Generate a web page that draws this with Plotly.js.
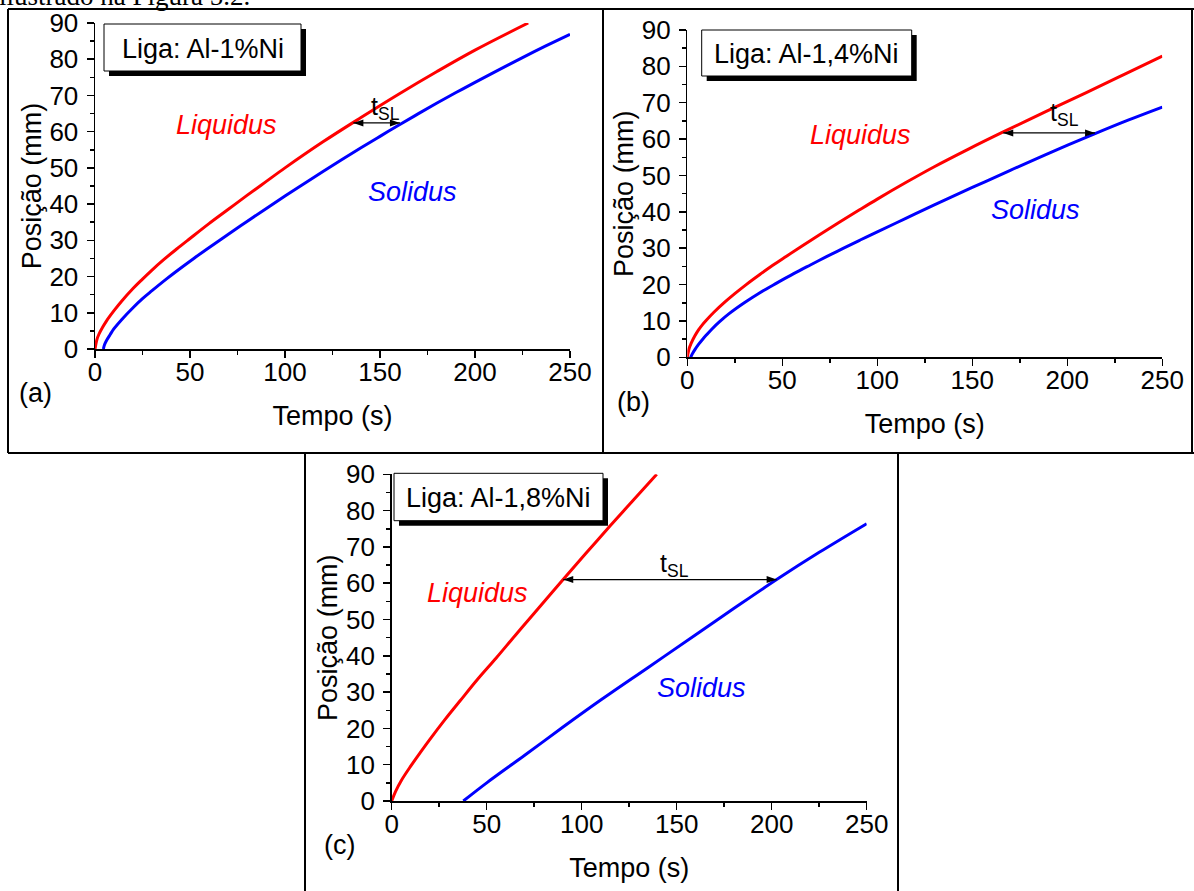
<!DOCTYPE html>
<html><head><meta charset="utf-8">
<script src="https://cdn.plot.ly/plotly-3.0.1.min.js"></script>
<style>html,body{margin:0;padding:0;background:#fff}#chart{width:1194px;height:891px}</style>
</head><body><div id="chart"></div>
<script>
// ---- data ----
const tempoLiqA = [0, 1, 2, 4, 6, 8, 10, 14, 20, 25, 30, 36, 43, 50, 60, 70, 80, 90, 100, 120, 140, 160, 180, 200, 228];
const posLiqA   = [0, 2.6, 4.0, 6.0, 7.7, 9.2, 10.6, 13.2, 16.7, 19.3, 21.8, 24.6, 27.6, 30.5, 34.6, 38.5, 42.4, 46.2, 50.0, 57.2, 63.9, 70.4, 76.6, 82.5, 90];
const tempoSolA = [4.4, 5, 6, 8, 10, 14, 20, 25, 30, 38, 45, 52, 58.8, 70, 80, 90, 100, 110, 120, 130, 140, 150, 160, 170, 180, 190, 200, 212, 225, 237, 250];
const posSolA   = [0, 1.2, 2.3, 4.0, 5.6, 8.1, 11.4, 13.9, 16.1, 19.5, 22.3, 25.0, 27.55, 31.6, 35.2, 38.75, 42.25, 45.65, 49.0, 52.3, 55.55, 58.7, 61.85, 64.9, 67.9, 70.8, 73.6, 76.9, 80.45, 83.6, 86.9];

const tempoLiqB = [0, 1, 2, 4, 6, 8, 10, 14, 20, 25, 31, 38, 45, 52, 60, 70, 80, 90, 100, 115, 130, 148, 166, 190, 210, 230, 250];
const posLiqB   = [0, 2.5, 3.8, 5.9, 7.6, 9.0, 10.2, 12.4, 15.3, 17.5, 20.0, 22.7, 25.3, 27.75, 30.5, 33.85, 37.15, 40.35, 43.5, 48.05, 52.4, 57.25, 61.9, 67.9, 72.8, 77.8, 82.8];
const tempoSolB = [1.8, 2.5, 4, 6, 8, 10, 13, 17, 22, 30, 38, 47, 56, 65, 73, 82, 91, 100, 115, 130, 150, 170, 192, 214.6, 232, 250];
const posSolB   = [0, 0.8, 2.1, 3.6, 4.9, 6.1, 7.8, 9.8, 12.0, 15.0, 17.7, 20.4, 23.0, 25.45, 27.6, 29.95, 32.25, 34.5, 38.2, 41.9, 46.7, 51.4, 56.5, 61.5, 65.2, 68.8];

const tempoLiqC = [0, 2, 5, 10, 15, 20, 28, 36, 45, 55, 65, 75, 90, 102, 115, 127, 139.5];
const posLiqC   = [0, 2.6, 5.6, 9.6, 13.3, 16.9, 22.4, 27.6, 33.4, 39.4, 45.6, 51.7, 60.9, 68.1, 75.8, 82.8, 90];
const tempoSolC = [37.7, 50, 70, 90, 110, 135, 160, 180, 202.6, 225, 250];
const posSolC   = [0, 5, 12.6, 20.3, 27.8, 36.8, 45.8, 53, 61, 68.5, 76.4];

const ligas = ['Liga: Al-1%Ni', 'Liga: Al-1,4%Ni', 'Liga: Al-1,8%Ni'];
const painelRotulos = ['(a)', '(b)', '(c)'];
const tslInicio = [136, 166.3, 90.3];
const tslFim    = [160.5, 214.6, 202.6];
const tslPos    = [62.4, 61.7, 61];
const xTitulo = 'Tempo (s)';
const yTitulo = 'Posição (mm)';

// ---- layout helpers ----
const W = 1194, H = 891;
const px = x => x / W;
const py = y => 1 - y / H;
const FONT = 'Liberation Sans, Arial, sans-serif';
const RED = '#ff0000', BLUE = '#0000ff';

function xAxis(d0, d1, anchor) {
  return {domain:[px(d0), px(d1)], anchor, range:[0, 250], tick0:0, dtick:50,
    showgrid:false, zeroline:false, showline:true, linecolor:'#000', linewidth:1.5,
    ticks:'outside', ticklen:7, tickwidth:1.5, tickcolor:'#000',
    tickfont:{family:FONT, size:26, color:'#000'}, ticklabelstandoff:-8,
    minor:{dtick:25, ticks:'outside', ticklen:4, tickwidth:1.5, tickcolor:'#000', showgrid:false},
    title:{text:xTitulo, font:{family:FONT, size:27, color:'#000'}, standoff:20},
    automargin:false, fixedrange:true};
}
function yAxis(d0, d1, anchor) {
  return {domain:[py(d0), py(d1)], anchor, range:[0, 90], tick0:0, dtick:10,
    showgrid:false, zeroline:false, showline:true, linecolor:'#000', linewidth:1.5,
    ticks:'outside', ticklen:7, tickwidth:1.5, tickcolor:'#000',
    tickfont:{family:FONT, size:26, color:'#000'}, ticklabelstandoff:3,
    minor:{dtick:5, ticks:'outside', ticklen:4, tickwidth:1.5, tickcolor:'#000', showgrid:false},
    title:{text:yTitulo, font:{family:FONT, size:27, color:'#000'}, standoff:0},
    automargin:false, fixedrange:true};
}

function curve(x, y, color, xa, ya, name) {
  return {x, y, type:'scatter', mode:'lines', name, xaxis:xa, yaxis:ya,
    line:{color, width:3, shape:'spline', smoothing:1}, hoverinfo:'skip', showlegend:false};
}

const data = [
  curve(tempoLiqA, posLiqA, RED, 'x', 'y', 'Liquidus'),
  curve(tempoSolA, posSolA, BLUE, 'x', 'y', 'Solidus'),
  curve(tempoLiqB, posLiqB, RED, 'x2', 'y2', 'Liquidus'),
  curve(tempoSolB, posSolB, BLUE, 'x2', 'y2', 'Solidus'),
  curve(tempoLiqC, posLiqC, RED, 'x3', 'y3', 'Liquidus'),
  curve(tempoSolC, posSolC, BLUE, 'x3', 'y3', 'Solidus')
];

// panel geometry (pixels)
const panels = [
  {x0:95,    x1:570,   y0:349,   y1:23,    xa:'x',  ya:'y',
   box:[104, 24, 301, 71], liq:[226, 125], sol:[412, 192], tsl:[385, 108], lab:[35.5, 393]},
  {x0:687.3, x1:1162.3, y0:357.3, y1:30,   xa:'x2', ya:'y2',
   box:[701.7, 30, 911.7, 76], liq:[860.5, 135], sol:[1035, 210], tsl:[1064, 114], lab:[633, 401.7]},
  {x0:391.7, x1:866.7, y0:801,   y1:474.3, xa:'x3', ya:'y3',
   box:[394, 473.3, 603, 520.7], liq:[477, 593.3], sol:[701.5, 688.3], tsl:[674, 565], lab:[340, 845]}
];

const layout = {
  width:W, height:H, margin:{l:0, r:0, t:0, b:0},
  paper_bgcolor:'#fff', plot_bgcolor:'rgba(0,0,0,0)', showlegend:false,
  xaxis: xAxis(panels[0].x0, panels[0].x1, 'y'),
  yaxis: yAxis(panels[0].y0, panels[0].y1, 'x'),
  xaxis2: xAxis(panels[1].x0, panels[1].x1, 'y2'),
  yaxis2: yAxis(panels[1].y0, panels[1].y1, 'x2'),
  xaxis3: xAxis(panels[2].x0, panels[2].x1, 'y3'),
  yaxis3: yAxis(panels[2].y0, panels[2].y1, 'x3'),
  shapes: [], annotations: []
};

// panel frames
const frameLines = [
  [8, 9, 1194, 9], [8, 9, 8, 453], [603, 9, 603, 453], [1192, 9, 1192, 453],
  [8, 453, 1194, 453], [305, 453, 305, 891], [898, 453, 898, 891]
];
frameLines.forEach(l => layout.shapes.push({type:'line', xref:'paper', yref:'paper',
  x0:px(l[0]), y0:py(l[1]), x1:px(l[2]), y1:py(l[3]), line:{color:'#000', width:2}}));

const txt = (text, x, y, opts={}) => Object.assign({text, xref:'paper', yref:'paper',
  x:px(x), y:py(y), xanchor:'center', yanchor:'middle', showarrow:false,
  font:{family:FONT, size:27, color:'#000'}}, opts);

// cut-off sentence at the very top
layout.annotations.push(txt('ilustrado na Figura 5.2.', -3, -4,
  {xanchor:'left', font:{family:'Liberation Serif, Times New Roman, serif', size:27, color:'#000'}}));

panels.forEach((p, i) => {
  const b = p.box;
  layout.shapes.push({type:'rect', xref:'paper', yref:'paper',
    x0:px(b[0] + 5), x1:px(b[2] + 5), y0:py(b[1] + 5), y1:py(b[3] + 5),
    fillcolor:'#000', line:{width:0}});
  layout.shapes.push({type:'rect', xref:'paper', yref:'paper',
    x0:px(b[0]), x1:px(b[2]), y0:py(b[1]), y1:py(b[3]),
    fillcolor:'#fff', line:{color:'#000', width:1}});
  layout.annotations.push(txt(ligas[i], (b[0] + b[2]) / 2, (b[1] + b[3]) / 2 + 1));
  layout.annotations.push(txt('<i>Liquidus</i>', p.liq[0], p.liq[1], {font:{family:FONT, size:27, color:RED}}));
  layout.annotations.push(txt('<i>Solidus</i>', p.sol[0], p.sol[1], {font:{family:FONT, size:27, color:BLUE}}));
  layout.annotations.push(txt('t<sub>SL</sub>', p.tsl[0], p.tsl[1], {font:{family:FONT, size:25, color:'#000'}}));
  layout.annotations.push(txt(painelRotulos[i], p.lab[0], p.lab[1]));
  // t_SL double arrow: shaft plus two filled heads
  layout.shapes.push({type:'line', xref:p.xa, yref:p.ya,
    x0:tslInicio[i], x1:tslFim[i], y0:tslPos[i], y1:tslPos[i], line:{color:'#000', width:1.3}});
  layout.shapes.push({type:'path', xref:p.xa, yref:p.ya, xsizemode:'pixel', ysizemode:'pixel',
    xanchor:tslFim[i], yanchor:tslPos[i], path:'M0,0 L-10,-3.5 L-10,3.5 Z',
    fillcolor:'#000', line:{width:0}});
  layout.shapes.push({type:'path', xref:p.xa, yref:p.ya, xsizemode:'pixel', ysizemode:'pixel',
    xanchor:tslInicio[i], yanchor:tslPos[i], path:'M0,0 L10,-3.5 L10,3.5 Z',
    fillcolor:'#000', line:{width:0}});
});

Plotly.newPlot('chart', data, layout, {staticPlot:true, displayModeBar:false});
</script>
</body></html>
